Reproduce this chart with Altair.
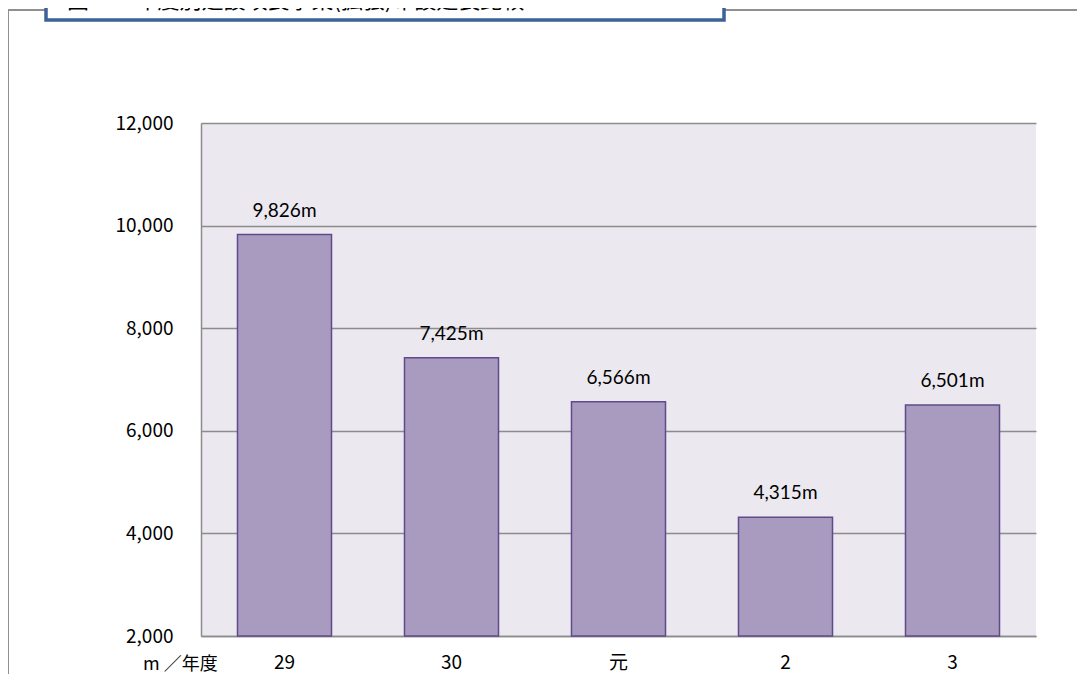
import altair as alt
import pandas as pd

years = ["29", "30", "元", "2", "3"]
lengths = [9826, 7425, 6566, 4315, 6501]
y_ticks = [2000, 4000, 6000, 8000, 10000, 12000]
title_text = "図14　年度別建設改良事業(拡張)布設延長比較"
x_unit = "m ／年度"

df = pd.DataFrame({
    "year": years,
    "length": lengths,
    "label": [f"{v:,}m" for v in lengths],
})

W, H = 835, 513
JP = "Noto Sans CJK JP"

x_enc = alt.X("year:N", sort=years,
              scale=alt.Scale(paddingInner=0.437, paddingOuter=0.2185),
              axis=alt.Axis(title=None, labelAngle=0, labelFont=JP, labelFontSize=19,
                            labelColor="#000", labelPadding=17, ticks=False,
                            domain=True, domainColor="#8c8c8c", domainWidth=1.5))
y_scale = alt.Scale(domain=[2000, 12000], zero=False, nice=False)

bars = alt.Chart(df).mark_bar(fill="#a89bbf", stroke="#5f4b8b", strokeWidth=1.5).encode(
    x=x_enc,
    y=alt.Y("length:Q", scale=y_scale,
            axis=alt.Axis(title=None, values=y_ticks, format=",.0f", labelFont=JP,
                          labelFontSize=19, labelColor="#000", labelPadding=28,
                          ticks=False, grid=True, gridColor="#8c8c8c", gridWidth=1.5,
                          domain=True, domainColor="#8c8c8c", domainWidth=1.5)),
    y2=alt.datum(2000),
)

labels = alt.Chart(df).mark_text(font="Lato", fontSize=19, color="#000",
                                 baseline="bottom", dy=-14).encode(
    x=alt.X("year:N", sort=years),
    y=alt.Y("length:Q", scale=y_scale),
    text="label:N",
)

unit = alt.Chart(pd.DataFrame({"t": [x_unit]})).mark_text(
    font=JP, fontSize=18, color="#000", align="left", baseline="middle").encode(
    x=alt.value(-58), y=alt.value(542), text="t:N")

frame_top = alt.Chart(pd.DataFrame({"a": [0]})).mark_rule(color="#909090", strokeWidth=2).encode(
    x=alt.value(-194), x2=alt.value(900), y=alt.value(-113))
frame_left = alt.Chart(pd.DataFrame({"a": [0]})).mark_rule(color="#909090", strokeWidth=2).encode(
    x=alt.value(-193), y=alt.value(-113), y2=alt.value(600))

title_box = alt.Chart(pd.DataFrame({"a": [0]})).mark_rect(
    fill="white", stroke="#3d6296", strokeWidth=3.5).encode(
    x=alt.value(-155), x2=alt.value(523), y=alt.value(-160), y2=alt.value(-103))

title_txt = alt.Chart(pd.DataFrame({"t": [title_text]})).mark_text(
    font=JP, fontSize=22, color="#000", align="left", baseline="alphabetic").encode(
    x=alt.value(-134), y=alt.value(-115), text="t:N")

chart = alt.layer(frame_top, frame_left, title_box, title_txt, bars, labels, unit).properties(
    width=W, height=H,
    background="white",
    autosize=alt.AutoSizeParams(type="none"),
    padding={"left": 193, "top": 115, "right": 41, "bottom": 38},
).configure_view(fill="#ebe9ef", stroke=None)

chart.save("out.html", embed_options={"renderer": "svg", "actions": False})
